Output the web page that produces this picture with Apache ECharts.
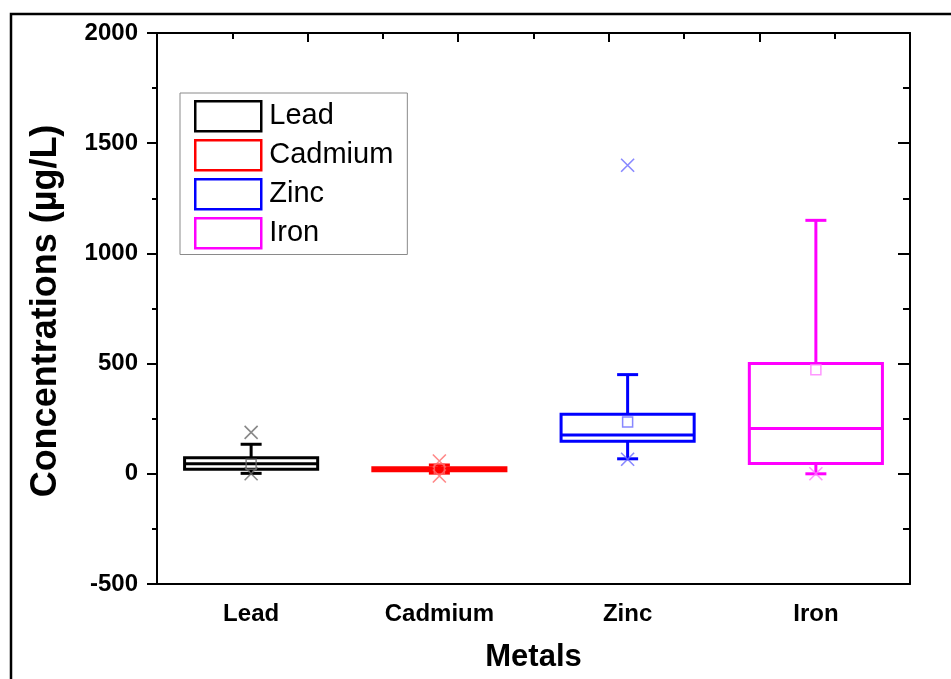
<!DOCTYPE html>
<html>
<head>
<meta charset="utf-8">
<script src="https://cdn.jsdelivr.net/npm/echarts@6/dist/echarts.min.js"></script>
<style>html,body{margin:0;padding:0;background:#fff;}#c{width:951px;height:679px;}</style>
</head>
<body>
<div id="c"></div>
<script>
const categories = ['Lead', 'Cadmium', 'Zinc', 'Iron'];
const colors = ['#000000', '#ff0000', '#0000ff', '#ff00ff'];
const lightColors = ['#6a6a6a', '#ff6a6a', '#6a6aff', '#ff7aff'];
const boxMin = [2, 3, 68, 0];
const boxQ1 = [21, 14, 148, 47];
const boxMedian = [46, 20, 176, 205];
const boxQ3 = [73, 28, 270, 500];
const boxMax = [134, 40, 450, 1150];
const means = [43, 22, 235, 472];
const outliers = [[188, 0], [58, -10], [1400, 66], [0]];
const yTicks = { min: -500, max: 2000, interval: 500 };

const FONT = '"Liberation Sans", Arial, sans-serif';
const chart = echarts.init(document.getElementById('c'), null, { renderer: 'canvas' });

const boxSeries = categories.map((name, i) => ({
  name: name,
  type: 'custom',
  xAxisIndex: 0,
  yAxisIndex: 0,
  z: 3,
  itemStyle: { color: colors[i] },
  encode: { x: 0, y: [1, 2, 3, 4, 5] },
  data: [[i, boxMin[i], boxQ1[i], boxMedian[i], boxQ3[i], boxMax[i]]],
  renderItem: function (params, api) {
    const x = api.value(0);
    const pMin = api.coord([x, api.value(1)]);
    const pQ1 = api.coord([x, api.value(2)]);
    const pMed = api.coord([x, api.value(3)]);
    const pQ3 = api.coord([x, api.value(4)]);
    const pMax = api.coord([x, api.value(5)]);
    const band = api.size([1, 0])[0];
    const bw = band * 0.707;
    const cap = 21;
    const cx = pMed[0];
    const st = { stroke: colors[i], lineWidth: 3, fill: 'none' };
    return {
      type: 'group',
      children: [
        { type: 'line', shape: { x1: cx, y1: pMax[1], x2: cx, y2: pQ3[1] }, style: st },
        { type: 'line', shape: { x1: cx, y1: pQ1[1], x2: cx, y2: pMin[1] }, style: st },
        { type: 'line', shape: { x1: cx - cap / 2, y1: pMax[1], x2: cx + cap / 2, y2: pMax[1] }, style: st },
        { type: 'line', shape: { x1: cx - cap / 2, y1: pMin[1], x2: cx + cap / 2, y2: pMin[1] }, style: st },
        { type: 'rect', shape: { x: cx - bw / 2, y: pQ3[1], width: bw, height: pQ1[1] - pQ3[1] }, style: { stroke: colors[i], lineWidth: 3, fill: '#fff' } },
        { type: 'line', shape: { x1: cx - bw / 2, y1: pMed[1], x2: cx + bw / 2, y2: pMed[1] }, style: st }
      ]
    };
  }
}));

const outlierData = [];
outliers.forEach((arr, i) => arr.forEach(v => outlierData.push({
  value: [i, v],
  itemStyle: { color: 'none', borderColor: lightColors[i], borderWidth: 1.6 }
})));
const meanData = means.map((v, i) => ({
  value: [i, v],
  itemStyle: { color: 'none', borderColor: lightColors[i], borderWidth: 1.5 }
}));

const option = {
  backgroundColor: '#fff',
  animation: false,
  grid: { left: 157, right: 41, top: 33, bottom: 95, containLabel: false },
  legend: {
    orient: 'vertical',
    left: 180,
    top: 93,
    itemWidth: 66,
    itemHeight: 30,
    itemGap: 6.5,
    padding: [7, 14, 5, 14],
    borderColor: '#8a8a8a',
    borderWidth: 1,
    textStyle: { fontFamily: FONT, fontSize: 29, color: '#000', padding: [0, 0, 0, 3] },
    data: categories.map((n, i) => ({
      name: n,
      icon: 'rect',
      itemStyle: { color: '#fff', borderColor: colors[i], borderWidth: 2.5 }
    }))
  },
  xAxis: [
    {
      type: 'category',
      data: categories,
      position: 'bottom',
      boundaryGap: true,
      axisLine: { onZero: false, lineStyle: { color: '#000', width: 2 } },
      axisTick: { alignWithLabel: true, length: 11, inside: false, lineStyle: { color: '#000', width: 2 } },
      axisLabel: { color: '#000', fontFamily: FONT, fontWeight: 'bold', fontSize: 24, margin: 18 },
      splitLine: { show: false },
      name: 'Metals',
      nameLocation: 'middle',
      nameGap: 58,
      nameTextStyle: { color: '#000', fontFamily: FONT, fontWeight: 'bold', fontSize: 31 }
    },
    {
      type: 'value',
      position: 'top',
      min: 0,
      max: 5,
      interval: 1,
      axisLine: { show: true, onZero: false, lineStyle: { color: '#000', width: 2 } },
      axisTick: { show: true, inside: true, length: 9, lineStyle: { color: '#000', width: 2 } },
      minorTick: { show: true, splitNumber: 2, length: 6, lineStyle: { color: '#000', width: 2 } },
      axisLabel: { show: false },
      splitLine: { show: false }
    }
  ],
  yAxis: [
    {
      type: 'value',
      position: 'left',
      min: yTicks.min,
      max: yTicks.max,
      interval: yTicks.interval,
      axisLine: { show: true, onZero: false, lineStyle: { color: '#000', width: 2 } },
      axisTick: { show: true, inside: false, length: 10, lineStyle: { color: '#000', width: 2 } },
      minorTick: { show: true, splitNumber: 2, length: 5, lineStyle: { color: '#000', width: 2 } },
      axisLabel: { color: '#000', fontFamily: FONT, fontWeight: 'bold', fontSize: 24, margin: 19, formatter: v => String(v) },
      splitLine: { show: false }
    },
    {
      type: 'value',
      position: 'right',
      min: yTicks.min,
      max: yTicks.max,
      interval: yTicks.interval,
      axisLine: { show: true, onZero: false, lineStyle: { color: '#000', width: 2 } },
      axisTick: { show: true, inside: true, length: 12, lineStyle: { color: '#000', width: 2 } },
      minorTick: { show: true, splitNumber: 2, length: 7, lineStyle: { color: '#000', width: 2 } },
      axisLabel: { show: false },
      splitLine: { show: false }
    }
  ],
  graphic: [
    {
      type: 'rect',
      shape: { x: 11, y: 14, width: 1000, height: 800 },
      style: { fill: 'none', stroke: '#000', lineWidth: 2.5 },
      silent: true,
      z: 100
    },
    {
      type: 'text',
      x: 46,
      y: 311,
      rotation: Math.PI / 2,
      style: {
        text: 'Concentrations (µg/L)',
        font: 'bold 36px ' + FONT,
        fill: '#000',
        textAlign: 'center',
        textVerticalAlign: 'middle'
      },
      z: 100
    }
  ],
  series: boxSeries.concat([
    {
      name: 'mean',
      type: 'scatter',
      z: 5,
      symbol: 'rect',
      symbolSize: 10,
      data: meanData
    },
    {
      name: 'outliers',
      type: 'scatter',
      z: 5,
      symbol: 'path://M0,0L12,12M12,0L0,12',
      symbolSize: 13,
      data: outlierData
    }
  ])
};
chart.setOption(option);
</script>
</body>
</html>
